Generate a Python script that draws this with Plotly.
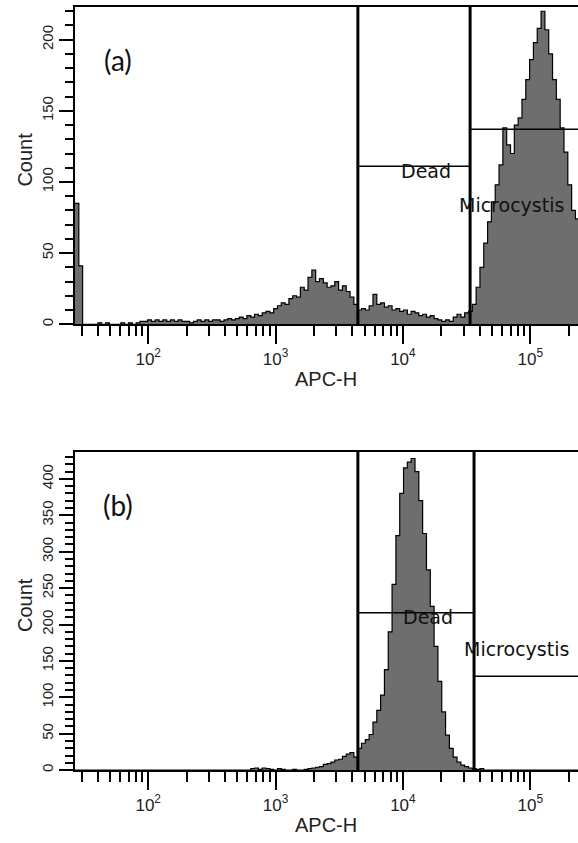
import numpy as np
import plotly.graph_objects as go

# ---------------- data ----------------
# histogram channels: log10(APC-H) of first channel edge and channel width
first_channel_log = 1.425
channel_step_log = 0.03

# panel (a) counts per channel
count_a = [
    85, 41, 0, 0, 0, 0, 1, 0, 1, 0,
    0, 0, 1, 0, 1, 0, 1, 2, 2, 3,
    2, 3, 2, 3, 2, 3, 2, 3, 2, 2,
    1, 2, 3, 2, 3, 2, 3, 3, 2, 3,
    4, 3, 4, 5, 4, 6, 5, 7, 6, 8,
    9, 8, 11, 13, 15, 14, 18, 20, 19, 26,
    24, 33, 38, 30, 32, 29, 26, 27, 30, 24,
    27, 23, 19, 14, 10, 11, 10, 13, 21, 14,
    15, 12, 13, 10, 11, 9, 10, 7, 9, 8,
    6, 7, 5, 6, 4, 3, 2, 3, 2, 5,
    7, 5, 8, 9, 14, 26, 40, 57, 72, 86,
    98, 112, 138, 126, 120, 140, 145, 158, 172, 186,
    198, 208, 220, 207, 190, 172, 158, 138, 121, 98,
    80, 74,
]

# panel (b) counts per channel
count_b = [
    0, 0, 0, 0, 0, 0, 0, 0, 0, 0,
    0, 0, 0, 0, 0, 0, 0, 0, 0, 0,
    0, 0, 0, 0, 0, 0, 0, 0, 0, 0,
    0, 0, 0, 0, 0, 0, 0, 0, 0, 0,
    0, 0, 0, 0, 0, 0, 2, 3, 1, 3,
    2, 1, 0, 2, 1, 0, 0, 1, 0, 0,
    1, 2, 3, 4, 5, 8, 9, 11, 14, 15,
    19, 22, 24, 18, 30, 37, 42, 49, 66, 82,
    103, 138, 190, 255, 322, 380, 415, 423, 428, 410,
    370, 325, 275, 225, 170, 122, 80, 48, 30, 18,
    11, 7, 5, 3, 2, 1, 2, 0, 0, 0,
    0, 0, 0, 0, 0, 0, 0, 0, 0, 0,
    0, 0, 0, 0, 0, 0, 0, 0, 0, 0,
    0, 0,
]

panel_labels = ["(a)", "(b)"]
x_range_log = [1.425, 5.375]
y_max = [223, 437]
major_ticks = [1e2, 1e3, 1e4, 1e5]
major_labels = ["10<sup>2</sup>", "10<sup>3</sup>", "10<sup>4</sup>", "10<sup>5</sup>"]
minor_ticks = [m * 10 ** d for d in (1, 2, 3, 4, 5) for m in range(2, 10)]

# gates: Dead [lo, hi] at level, Microcystis [hi, max] at level
dead_lo = [4430, 4430]
dead_hi = [33700, 36200]
gate_max = 262144
dead_level = [111, 216]
micro_level = [137, 129]
gate_names = ["Dead", "Microcystis"]
dead_text_pos = [(15100, 108), (15700, 211)]
micro_text_pos = [(70800, 84), (77600, 167)]

# ---------------- figure ----------------
W, H = 578, 843
fig = go.Figure()

y_domains = [[1 - 325 / H, 1 - 7 / H], [1 - 772 / H, 1 - 453 / H]]
x_domain = [75 / W, 1.0]
counts = [count_a, count_b]

for p in range(2):
    xa = "x" if p == 0 else "x2"
    ya = "y" if p == 0 else "y2"
    c = counts[p]
    edges = first_channel_log + channel_step_log * np.arange(len(c) + 1)
    xs = 10 ** edges
    ys = list(c) + [c[-1]]
    fig.add_trace(go.Scatter(
        x=xs, y=ys, mode="lines", line=dict(shape="hv", color="black", width=1.2),
        fill="tozeroy", fillcolor="#6e6e6e", xaxis=xa, yaxis=ya,
        hoverinfo="skip", showlegend=False))
    # vertical gate boundaries
    for gx in (dead_lo[p], dead_hi[p]):
        fig.add_trace(go.Scatter(
            x=[gx, gx], y=[0, y_max[p]], mode="lines",
            line=dict(color="black", width=3), xaxis=xa, yaxis=ya,
            hoverinfo="skip", showlegend=False))
    # horizontal gate levels
    fig.add_trace(go.Scatter(
        x=[dead_lo[p], dead_hi[p]], y=[dead_level[p], dead_level[p]], mode="lines",
        line=dict(color="black", width=1.5), xaxis=xa, yaxis=ya,
        hoverinfo="skip", showlegend=False))
    fig.add_trace(go.Scatter(
        x=[dead_hi[p], gate_max], y=[micro_level[p], micro_level[p]], mode="lines",
        line=dict(color="black", width=1.5), xaxis=xa, yaxis=ya,
        hoverinfo="skip", showlegend=False))
    for name, pos in zip(gate_names, (dead_text_pos[p], micro_text_pos[p])):
        fig.add_annotation(
            x=np.log10(pos[0]), y=pos[1], xref=xa, yref=ya, text=name,
            xanchor="center", yanchor="middle",
            showarrow=False, font=dict(family="DejaVu Sans", size=19, color="#111"))

axis_common = dict(
    type="log", range=x_range_log, domain=x_domain,
    showline=True, linewidth=2, linecolor="black", mirror=True,
    tickmode="array", tickvals=major_ticks, ticktext=major_labels,
    ticks="outside", ticklen=18, tickwidth=2, tickcolor="black",
    ticklabelstandoff=0,
    tickfont=dict(family="Liberation Sans, Arial", size=17, color="#222"),
    minor=dict(tickmode="array", tickvals=minor_ticks, ticks="outside",
               ticklen=10, tickwidth=2, tickcolor="black", showgrid=False),
    showgrid=False, zeroline=False, fixedrange=True,
)
yaxis_common = dict(
    showline=True, linewidth=2, linecolor="black", mirror=False,
    dtick=50, tick0=0, ticks="outside", ticklen=14, tickwidth=2, tickcolor="black",
    tickangle=-90,
    tickfont=dict(family="Liberation Sans, Arial", size=15, color="#222"),
    minor=dict(dtick=10, tick0=0, ticks="outside", ticklen=8, tickwidth=2,
               tickcolor="black", showgrid=False),
    showgrid=False, zeroline=False, fixedrange=True,
)

fig.update_layout(
    width=W, height=H, margin=dict(l=0, r=0, t=0, b=0),
    paper_bgcolor="white", plot_bgcolor="white", showlegend=False,
    xaxis=dict(axis_common, anchor="y"),
    xaxis2=dict(axis_common, anchor="y2"),
    yaxis=dict(yaxis_common, domain=y_domains[0], range=[0, y_max[0]], anchor="x"),
    yaxis2=dict(yaxis_common, domain=y_domains[1], range=[0, y_max[1]], anchor="x2"),
)

title_font = dict(family="Liberation Sans, Arial", size=20, color="#222")
for p in range(2):
    d = y_domains[p]
    fig.add_annotation(text="Count", x=25 / W, y=(d[0] + d[1]) / 2 + 6 / H,
                       xref="paper", yref="paper", textangle=-90,
                       xanchor="center", yanchor="middle",
                       showarrow=False, font=title_font)
    fig.add_annotation(text="APC-H", x=(x_domain[0] + x_domain[1]) / 2,
                       y=d[0] - 55 / H, xref="paper", yref="paper",
                       xanchor="center", yanchor="middle",
                       showarrow=False, font=title_font)
    fig.add_annotation(text=panel_labels[p], x=118 / W, y=d[1] - 53 / H,
                       xref="paper", yref="paper", showarrow=False,
                       xanchor="center", yanchor="middle",
                       font=dict(family="Lato", size=28, color="#111"))

fig.write_html("out.html")
